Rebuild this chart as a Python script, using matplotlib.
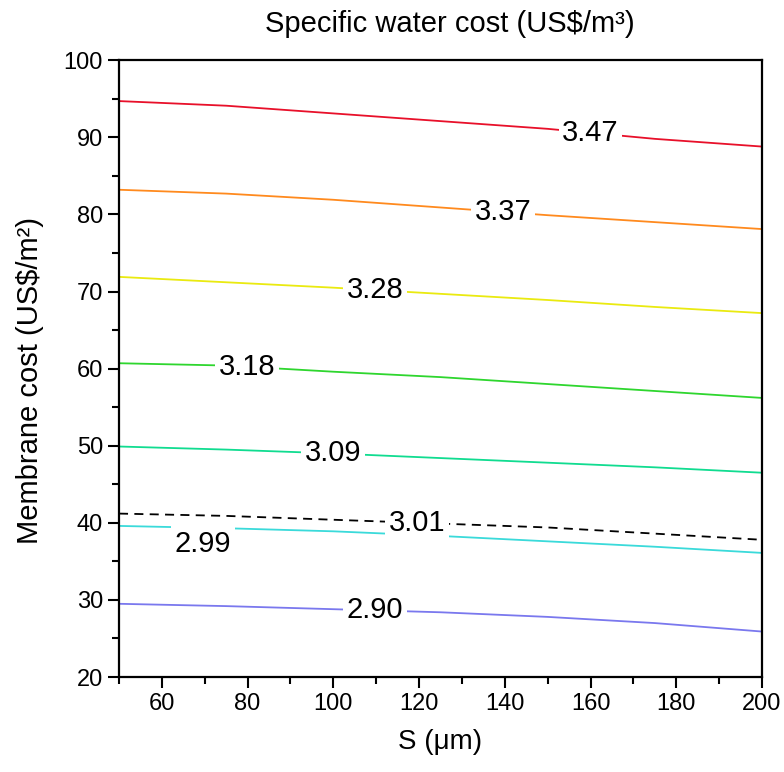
import numpy as np
import matplotlib.pyplot as plt
from matplotlib.ticker import MultipleLocator

plt.rcParams['font.family'] = ['Liberation Sans', 'DejaVu Sans']

# S values where each contour was read
s_um = [50, 75, 100, 125, 150, 175, 200]

# membrane cost along each iso-cost line
c347 = [94.7, 94.1, 93.1, 92.1, 91.1, 89.8, 88.8]
c337 = [83.2, 82.7, 81.9, 80.9, 79.9, 79.0, 78.1]
c328 = [71.9, 71.2, 70.5, 69.7, 68.9, 68.0, 67.2]
c318 = [60.7, 60.4, 59.6, 58.9, 58.0, 57.1, 56.2]
c309 = [49.9, 49.5, 49.0, 48.4, 47.8, 47.2, 46.5]
c301 = [41.2, 40.9, 40.4, 39.9, 39.4, 38.6, 37.8]
c299 = [39.6, 39.3, 38.9, 38.3, 37.6, 36.9, 36.1]
c290 = [29.5, 29.2, 28.8, 28.4, 27.8, 27.0, 25.9]

labels = ['3.47', '3.37', '3.28', '3.18', '3.09', '3.01', '2.99', '2.90']
lines = [c347, c337, c328, c318, c309, c301, c299, c290]
colors = ['#e8102a', '#ff8a1e', '#eaea10', '#2ed62e', '#10dc90', 'black', '#3adada', '#7a78ee']
styles = ['-', '-', '-', '-', '-', '--', '-', '-']
label_x = [160, 139.6, 109.7, 79.9, 99.9, 119.5, 69.6, 109.7]
label_dy = [0, 0, 0, 0, 0, 0, -2.1, 0]

fig = plt.figure(figsize=(7.84, 7.72), dpi=100)
ax = fig.add_axes([0.1518, 0.123, 0.8202, 0.799])

for y, c, ls in zip(lines, colors, styles):
    ax.plot(s_um, y, color=c, ls=ls, lw=1.3, zorder=2,
            dashes=(5, 3.5) if ls == '--' else (None, None))

for lab, y, lx, dy in zip(labels, lines, label_x, label_dy):
    ly = np.interp(lx, s_um, y) + dy
    ax.text(lx, ly, lab, fontsize=21, ha='center', va='center', zorder=4,
            bbox=dict(boxstyle='square,pad=0.12', fc='white', ec='none'))

ax.set_xlim(50, 200)
ax.set_ylim(20, 100)
ax.xaxis.set_major_locator(MultipleLocator(20))
ax.xaxis.set_minor_locator(MultipleLocator(10))
ax.yaxis.set_major_locator(MultipleLocator(10))
ax.yaxis.set_minor_locator(MultipleLocator(5))
ax.set_xticks([60, 80, 100, 120, 140, 160, 180, 200])
ax.tick_params(which='both', direction='out', top=False, right=False, width=1.5, labelsize=17)
ax.tick_params(which='major', length=8)
ax.tick_params(which='minor', length=5)
for sp in ax.spines.values():
    sp.set_linewidth(1.6)

ax.set_xlabel('S (μm)', fontsize=20, labelpad=10)
ax.set_ylabel('Membrane cost (US\\$/m²)', fontsize=21)
ax.yaxis.set_label_coords(-0.117, 0.48)
ax.set_title('Specific water cost (US\\$/m³)', fontsize=21, pad=20, x=0.515)

fig.savefig('out.png', dpi=100)
